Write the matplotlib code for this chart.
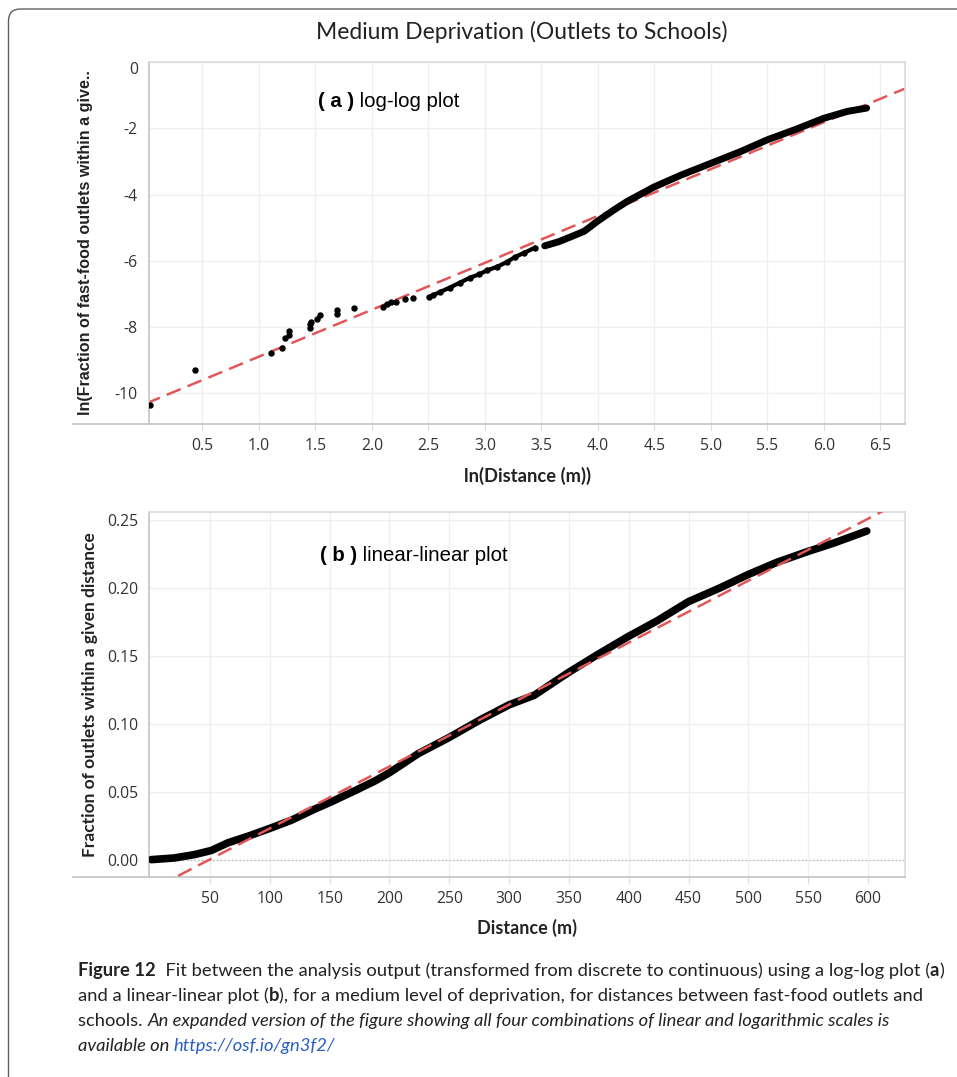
import matplotlib
matplotlib.use("Agg")
import matplotlib.pyplot as plt
from matplotlib.patches import FancyBboxPatch
from matplotlib.text import Annotation

plt.rcParams["axes.unicode_minus"] = False

# ---- data ----
# (a) log-log: isolated points at short distances
lnd_sparse = [0.04, 0.43, 1.11, 1.20, 1.23, 1.27, 1.27, 1.45, 1.45, 1.46, 1.51, 1.54,
              1.69, 1.69, 1.84, 2.10, 2.13, 2.17, 2.21, 2.29, 2.36]
lnf_sparse = [-10.37, -9.30, -8.80, -8.63, -8.32, -8.12, -8.24, -8.03, -7.90, -7.85, -7.75, -7.65,
              -7.60, -7.50, -7.42, -7.40, -7.30, -7.26, -7.25, -7.17, -7.14]
# (a) log-log: dense run of points
lnd_dense1 = [2.51, 2.54, 2.60, 2.69, 2.78, 2.87, 2.95, 3.02, 3.11, 3.20, 3.27, 3.35, 3.44]
lnf_dense1 = [-7.10, -7.04, -6.95, -6.81, -6.66, -6.51, -6.41, -6.29, -6.18, -6.03, -5.88, -5.76, -5.61]
lnd_dense2 = [3.53, 3.65, 3.76, 3.88, 4.00, 4.15, 4.26, 4.50, 4.74, 5.00, 5.26, 5.50, 5.74,
              6.00, 6.21, 6.38]
lnf_dense2 = [-5.55, -5.43, -5.28, -5.11, -4.80, -4.45, -4.21, -3.77, -3.41, -3.06, -2.71, -2.35, -2.05,
              -1.70, -1.49, -1.39]
fit_a = (1.415, -10.31)   # slope, intercept

# (b) linear-linear
dist_m = [1, 20, 37, 51, 65, 82, 100, 118, 137, 150, 171, 188, 200, 224, 250, 276, 300,
          321, 350, 374, 399, 424, 450, 476, 500, 524, 550, 571, 599]
frac = [0.000, 0.0012, 0.0037, 0.0067, 0.0124, 0.0173, 0.023, 0.029, 0.037, 0.042, 0.0507,
        0.058, 0.064, 0.078, 0.090, 0.103, 0.114, 0.121, 0.138, 0.151, 0.164, 0.176, 0.190,
        0.200, 0.210, 0.219, 0.227, 0.233, 0.242]
fit_b = (0.000456, -0.0226)

xticks_a = [0.5, 1.0, 1.5, 2.0, 2.5, 3.0, 3.5, 4.0, 4.5, 5.0, 5.5, 6.0, 6.5]
yticks_a = [0, -2, -4, -6, -8, -10]
xticks_b = [50, 100, 150, 200, 250, 300, 350, 400, 450, 500, 550, 600]
yticks_b = [0.00, 0.05, 0.10, 0.15, 0.20, 0.25]

RED = "#e15759"
GRID = "#efefef"
TICKFONT = "Open Sans"
LABFONT = "Lato"
INK = "#222222"

fig = plt.figure(figsize=(9.57, 10.77), dpi=100)

# outer frame of the figure box
frame = FancyBboxPatch((0.085, -1.0), 10.0, 10.68 + 1.0, boxstyle="round,pad=0,rounding_size=0.12",
                       transform=fig.dpi_scale_trans, facecolor="none", edgecolor="#606060", lw=1.0)
fig.patches.append(frame)

fig.text(0.545, 0.970, "Medium Deprivation (Outlets to Schools)", ha="center", va="center",
         fontsize=16.5, family=LABFONT, color=INK)


def style_axes(ax, xticks, yticks):
    ax.set_xticks(xticks)
    ax.set_yticks(yticks)
    ax.grid(True, color=GRID, lw=0.9)
    ax.set_axisbelow(True)
    for s in ["top", "right"]:
        ax.spines[s].set_color("#dadada")
    for s in ["left", "bottom"]:
        ax.spines[s].set_color("#c4c4c4")
    for s in ax.spines.values():
        s.set_linewidth(1.2)
    ax.tick_params(axis="x", length=4, color="#d8d8d8", pad=6, labelsize=11.3, labelcolor="#333333")
    ax.tick_params(axis="y", length=0, pad=8, labelsize=11.3, labelcolor="#333333")
    for lab in ax.get_xticklabels() + ax.get_yticklabels():
        lab.set_family(TICKFONT)
    # axis line continues under the y tick labels
    ax.plot([-0.10, 0], [0, 0], transform=ax.transAxes, color="#c4c4c4", lw=1.2, clip_on=False)


def two_part(ax, x, y, bold, rest, size):
    t = ax.text(x, y, bold, transform=ax.transAxes, fontsize=size, fontweight="bold",
                family="Liberation Sans", va="center", ha="left")
    ax.annotate(rest, xy=(1, 0.5), xycoords=t, va="center", ha="left",
                fontsize=size, family="Liberation Sans")


# ---- (a) ----
ax1 = fig.add_axes([0.1557, 0.6063, 0.7900, 0.3361])
xs = [0.0, 7.0]
ax1.plot(xs, [fit_a[0] * v + fit_a[1] for v in xs], color=RED, lw=1.8, dashes=(6, 3), zorder=2)
ax1.plot(lnd_sparse, lnf_sparse, "o", color="black", ms=3.6, zorder=3)
ax1.plot(lnd_dense1, lnf_dense1, "o-", color="black", ms=3.6, lw=3.0, zorder=3)
ax1.plot(lnd_dense2, lnf_dense2, "-", color="black", lw=5.0, solid_capstyle="round", zorder=3)
ax1.set_xlim(0.027, 6.72)
ax1.set_ylim(-10.93, 0.0)
style_axes(ax1, xticks_a, yticks_a)
ax1.set_yticklabels([str(v) for v in yticks_a])
ax1.get_yticklabels()[0].set_va("top")
ax1.set_xticklabels(["%.1f" % v for v in xticks_a])
ax1.set_xlabel("ln(Distance (m))", fontsize=13.2, fontweight="bold", family=LABFONT,
               labelpad=9, color=INK)
ax1.set_ylabel("ln(Fraction of fast-food outlets within a give..", fontsize=11.6,
               fontweight="bold", family="Liberation Sans", labelpad=16, color=INK)
two_part(ax1, 0.224, 0.89, "( a )", " log-log plot", 14.7)

# ---- (b) ----
ax2 = fig.add_axes([0.1557, 0.1857, 0.7900, 0.3389])
xs = [-10, 700]
ax2.axhline(0, color="#b0b0b0", lw=0.9, ls=(0, (1, 2)), zorder=1)
ax2.plot(dist_m, frac, "-", color="black", lw=5.5, solid_capstyle="round", zorder=3)
ax2.plot(xs, [fit_b[0] * v + fit_b[1] for v in xs], color=RED, lw=1.8, dashes=(6, 3), zorder=4)
ax2.set_xlim(-1, 631)
ax2.set_ylim(-0.0128, 0.256)
style_axes(ax2, xticks_b, yticks_b)
ax2.set_yticklabels(["%.2f" % v for v in yticks_b])
ax2.set_xlabel("Distance (m)", fontsize=13, fontweight="bold", family=LABFONT,
               labelpad=9, color=INK)
ax2.set_ylabel("Fraction of outlets within a given distance", fontsize=12.5,
               fontweight="bold", family=LABFONT, labelpad=6, color=INK)
two_part(ax2, 0.226, 0.882, "( b )", " linear-linear plot", 14.7)

# ---- caption ----
CAP = 13.2
BLUE = "#2a5ec4"
lines = [
    [("Figure 12", "bold", "normal", INK),
     ("  Fit between the analysis output (transformed from discrete to continuous) using a log-log plot (",
      "normal", "normal", INK),
     ("a", "bold", "normal", INK), (")", "normal", "normal", INK)],
    [("and a linear-linear plot (", "normal", "normal", INK), ("b", "bold", "normal", INK),
     ("), for a medium level of deprivation, for distances between fast-food outlets and",
      "normal", "normal", INK)],
    [("schools. ", "normal", "normal", INK),
     ("An expanded version of the figure showing all four combinations of linear and logarithmic scales is",
      "normal", "italic", INK)],
    [("available on ", "normal", "italic", INK),
     ("https://osf.io/gn3f2/", "normal", "italic", BLUE)],
]
y0 = 1 - 976 / 1077
for i, segs in enumerate(lines):
    y = y0 - i * 25 / 1077
    txt, w, st, c = segs[0]
    cur = fig.text(78 / 957, y, txt, fontsize=CAP, fontweight=w, style=st, color=c,
                   family=LABFONT, va="baseline", ha="left")
    for txt, w, st, c in segs[1:]:
        cur = fig.add_artist(Annotation(txt, xy=(1, 0), xycoords=cur, va="bottom", ha="left",
                                        fontsize=CAP, fontweight=w, style=st, color=c,
                                        family=LABFONT))

fig.savefig("out.png", dpi=100)
